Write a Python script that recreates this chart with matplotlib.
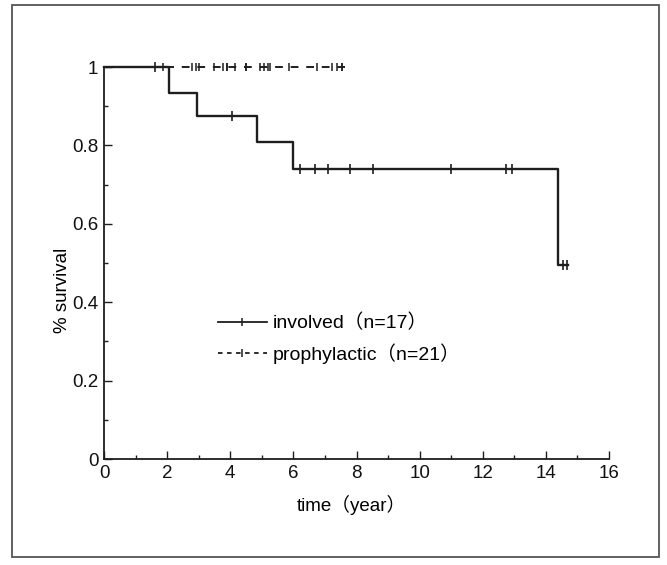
import matplotlib
matplotlib.use("Agg")
import matplotlib.pyplot as plt
from matplotlib.lines import Line2D
from matplotlib.patches import Rectangle
from matplotlib.ticker import MultipleLocator, FuncFormatter

plt.rcParams['font.family'] = ['Liberation Sans', 'Noto Sans CJK JP']

# Kaplan-Meier steps
inv_times = [0, 2.07, 2.95, 4.85, 6.0, 14.37, 14.69]
inv_surv = [1.0, 0.933, 0.875, 0.808, 0.741, 0.494, 0.494]
inv_censor = [1.62, 4.06, 6.22, 6.70, 7.10, 7.78, 8.53, 11.01, 12.75, 12.94, 14.53, 14.67]

pro_times = [0, 7.62]
pro_surv = [1.0, 1.0]
pro_censor = [1.88, 2.80, 2.91, 3.02, 3.47, 3.76, 3.89, 3.89, 4.16, 4.50, 4.50,
              4.93, 5.08, 5.18, 5.27, 5.85, 6.75, 7.22, 7.38, 7.54, 7.54]

labels = ['involved（n=17）', 'prophylactic（n=21）']
ink = '#1e1e1e'


def surv_at(times, surv, t):
    s = surv[0]
    for ti, si in zip(times, surv):
        if ti <= t:
            s = si
    return s


fig = plt.figure(figsize=(6.67, 5.65), dpi=100)
ax = fig.add_axes([0.156, 0.1876, 0.757, 0.6938])

# prophylactic (dashed)
ax.step(pro_times, pro_surv, where='post', color=ink, lw=1.4,
        linestyle=(0, (4, 4)), clip_on=False)
ax.plot(pro_censor, [surv_at(pro_times, pro_surv, t) for t in pro_censor],
        linestyle='none', marker='|', ms=6, mew=1.1, color=ink, clip_on=False)

# involved (solid)
ax.step(inv_times, inv_surv, where='post', color=ink, lw=1.7, clip_on=False)
ax.plot(inv_censor, [surv_at(inv_times, inv_surv, t) for t in inv_censor],
        linestyle='none', marker='|', ms=6.5, mew=1.2, color=ink, clip_on=False)

ax.set_xlim(0, 16)
ax.set_ylim(0, 1)
ax.spines['top'].set_visible(False)
ax.spines['right'].set_visible(False)
for sp in ['left', 'bottom']:
    ax.spines[sp].set_color(ink)
    ax.spines[sp].set_linewidth(1.3)

ax.xaxis.set_major_locator(MultipleLocator(2))
ax.xaxis.set_minor_locator(MultipleLocator(1))
ax.yaxis.set_major_locator(MultipleLocator(0.2))
ax.yaxis.set_minor_locator(MultipleLocator(0.1))
ax.yaxis.set_major_formatter(FuncFormatter(lambda v, p: '%g' % round(v, 2)))
ax.tick_params(which='major', direction='in', length=6, width=1, color=ink,
               labelsize=13.5, labelcolor='#111111', pad=4)
ax.tick_params(which='minor', direction='in', length=3, width=1, color=ink)

ax.set_xlabel('time（year）', fontsize=13.5)
ax.set_ylabel('% survival', fontsize=13.5)
ax.xaxis.set_label_coords(0.49, -0.092)
ax.yaxis.set_label_coords(-0.066, 0.43)

handles = [
    Line2D([], [], color=ink, lw=1.3, marker='|', ms=6, mew=1.1),
    Line2D([], [], color=ink, lw=1.3, linestyle=(0, (2.5, 2.5)), marker='|', ms=6, mew=1.1),
]
ax.legend(handles, labels, loc='upper left', bbox_to_anchor=(0.226, 0.370),
          frameon=False, fontsize=14, handlelength=2.5, handletextpad=0.3,
          labelspacing=0.55, borderpad=0, borderaxespad=0, numpoints=1)

# outer frame of the figure
fig.add_artist(Rectangle((0.018, 0.014), 0.970, 0.977, transform=fig.transFigure,
                         fill=False, edgecolor='#555555', lw=1.3))

fig.savefig('out.png', dpi=100)
